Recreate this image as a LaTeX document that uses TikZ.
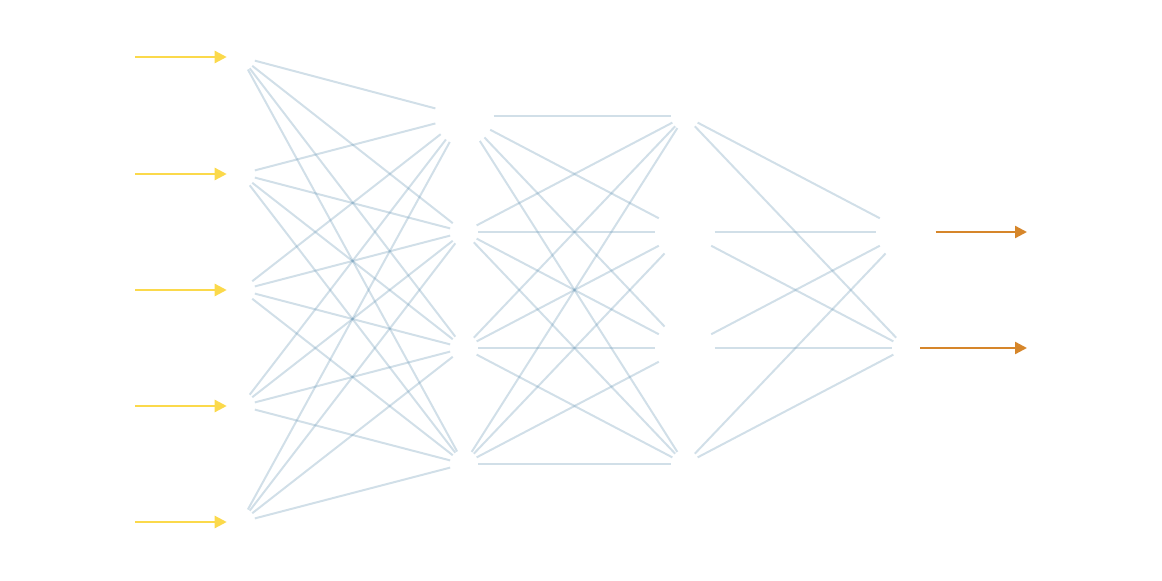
\documentclass[tikz,border=0pt]{standalone}
\usetikzlibrary{arrows.meta}
\definecolor{edgeblue}{HTML}{5A8DAE}
\definecolor{inyellow}{HTML}{FBD94B}
\definecolor{outorange}{HTML}{D6862A}
\begin{document}
\begin{tikzpicture}[x=0.75pt,y=-0.75pt,
  neuron/.style={circle,inner sep=0pt,draw=none,minimum size=21pt},
  bigneuron/.style={neuron,minimum size=44pt},
  link/.style={draw=edgeblue,draw opacity=0.28,line width=1.5pt},
  inarrow/.style={draw=inyellow,line width=1.7pt,-{Triangle[length=9pt,width=9pt,fill=inyellow]}},
  outarrow/.style={draw=outorange,line width=1.7pt,-{Triangle[length=9pt,width=9pt,fill=outorange]}}]
\useasboundingbox (0,0) rectangle (1162,581);
% input layer
\foreach \k/\y in {1/57,2/174,3/290,4/406,5/522}{
  \node[neuron] (i\k) at (241,\y) {};
  \coordinate (s\k) at (135,\y);
}
% hidden layer 1
\node[bigneuron] (h1) at (464,116) {};
\node[neuron] (h2) at (464,232) {};
\node[neuron] (h3) at (464,348) {};
\node[neuron] (h4) at (464,464) {};
% hidden layer 2
\node[neuron] (g1) at (685,116) {};
\node[bigneuron] (g2) at (685,232) {};
\node[bigneuron] (g3) at (685,348) {};
\node[neuron] (g4) at (685,464) {};
% output layer
\node[bigneuron] (o1) at (906,232) {};
\node[neuron] (o2) at (906,348) {};
\coordinate (t1) at (1027,232);
\coordinate (t2) at (1027,348);
% connections
\foreach \a in {1,...,5}{\foreach \b in {1,...,4}{\draw[link] (i\a) -- (h\b);}}
\foreach \a in {1,...,4}{\foreach \b in {1,...,4}{\draw[link] (h\a) -- (g\b);}}
\foreach \a in {1,...,4}{\foreach \b in {1,2}{\draw[link] (g\a) -- (o\b);}}
% arrows
\foreach \k in {1,...,5}{\draw[inarrow] (s\k) -- (i\k);}
\draw[outarrow] (o1) -- (t1);
\draw[outarrow] (o2) -- (t2);
\end{tikzpicture}
\end{document}
